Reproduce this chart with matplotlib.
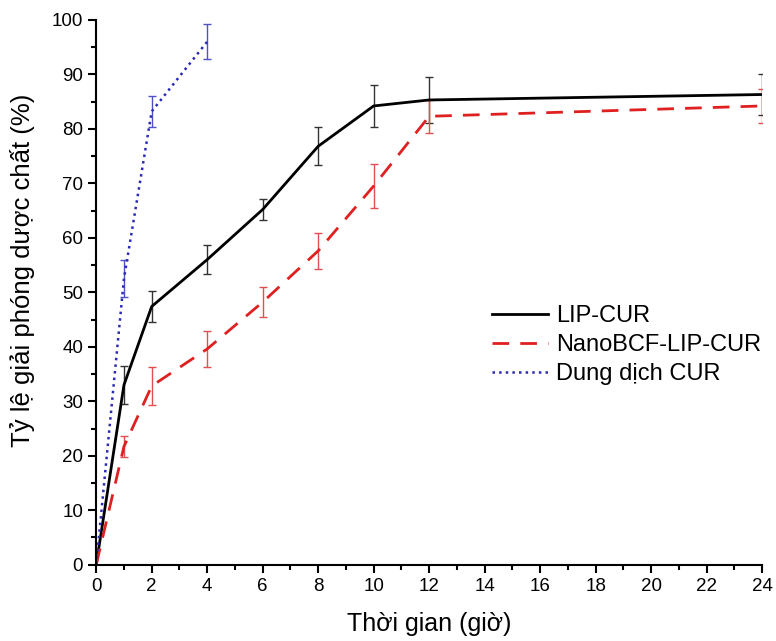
import numpy as np
import matplotlib.pyplot as plt
from matplotlib.ticker import MultipleLocator

plt.rcParams['font.family'] = ['Liberation Sans', 'DejaVu Sans']

# thoi gian (gio)
t_lip = [0, 1, 2, 4, 6, 8, 10, 12, 24]
lip = [0, 33.0, 47.4, 56.0, 65.2, 76.8, 84.2, 85.3, 86.3]
lip_err = [0, 3.5, 2.9, 2.6, 2.0, 3.5, 3.8, 4.2, 3.7]

t_nano = [0, 1, 2, 4, 6, 8, 10, 12, 24]
nano = [0, 21.7, 32.8, 39.6, 48.2, 57.6, 69.5, 82.3, 84.2]
nano_err = [0, 1.9, 3.5, 3.3, 2.8, 3.3, 4.0, 3.0, 3.2]

t_dd = [0, 1, 2, 4]
dd = [0, 52.5, 83.2, 96.0]
dd_err = [0, 3.4, 2.8, 3.2]

fig = plt.figure(figsize=(7.76, 6.41), dpi=100)
ax = fig.add_axes([0.124, 0.119, 0.858, 0.85])

e1 = ax.errorbar(t_lip, lip, yerr=lip_err, color='black', lw=2, ecolor='#333333',
                 elinewidth=1, capsize=3)
e2 = ax.errorbar(t_nano, nano, yerr=nano_err, color='#e02020', lw=2, ls=(0, (6, 4)),
                 ecolor='#e05050', elinewidth=1, capsize=3)
e3 = ax.errorbar(t_dd, dd, yerr=dd_err, color='#2a2ab5', lw=1.8, ls=':',
                 ecolor='#5050c8', elinewidth=1, capsize=3)

ax.set_xlim(0, 24)
ax.set_ylim(0, 100)
ax.xaxis.set_major_locator(MultipleLocator(2))
ax.xaxis.set_minor_locator(MultipleLocator(1))
ax.yaxis.set_major_locator(MultipleLocator(10))
ax.yaxis.set_minor_locator(MultipleLocator(5))
ax.tick_params(which='major', direction='out', length=6, width=1.5, labelsize=13.5)
ax.tick_params(which='minor', direction='out', length=3.5, width=1.5)
ax.spines['top'].set_visible(False)
ax.spines['right'].set_visible(False)
ax.spines['left'].set_linewidth(1.5)
ax.spines['bottom'].set_linewidth(1.5)

ax.set_xlabel('Thời gian (giờ)', fontsize=18, labelpad=12)
ax.set_ylabel('Tỷ lệ giải phóng dược chất (%)', fontsize=18.5)
ax.yaxis.set_label_coords(-0.092, 0.541)

ax.legend([e1.lines[0], e2.lines[0], e3.lines[0]],
          ['LIP-CUR', 'NanoBCF-LIP-CUR', 'Dung dịch CUR'],
          loc='upper left', bbox_to_anchor=(0.595, 0.477), frameon=False,
          fontsize=17, handlelength=2.35, handletextpad=0.33,
          labelspacing=0.3, borderpad=0, borderaxespad=0)

fig.savefig('out.png', dpi=100)
